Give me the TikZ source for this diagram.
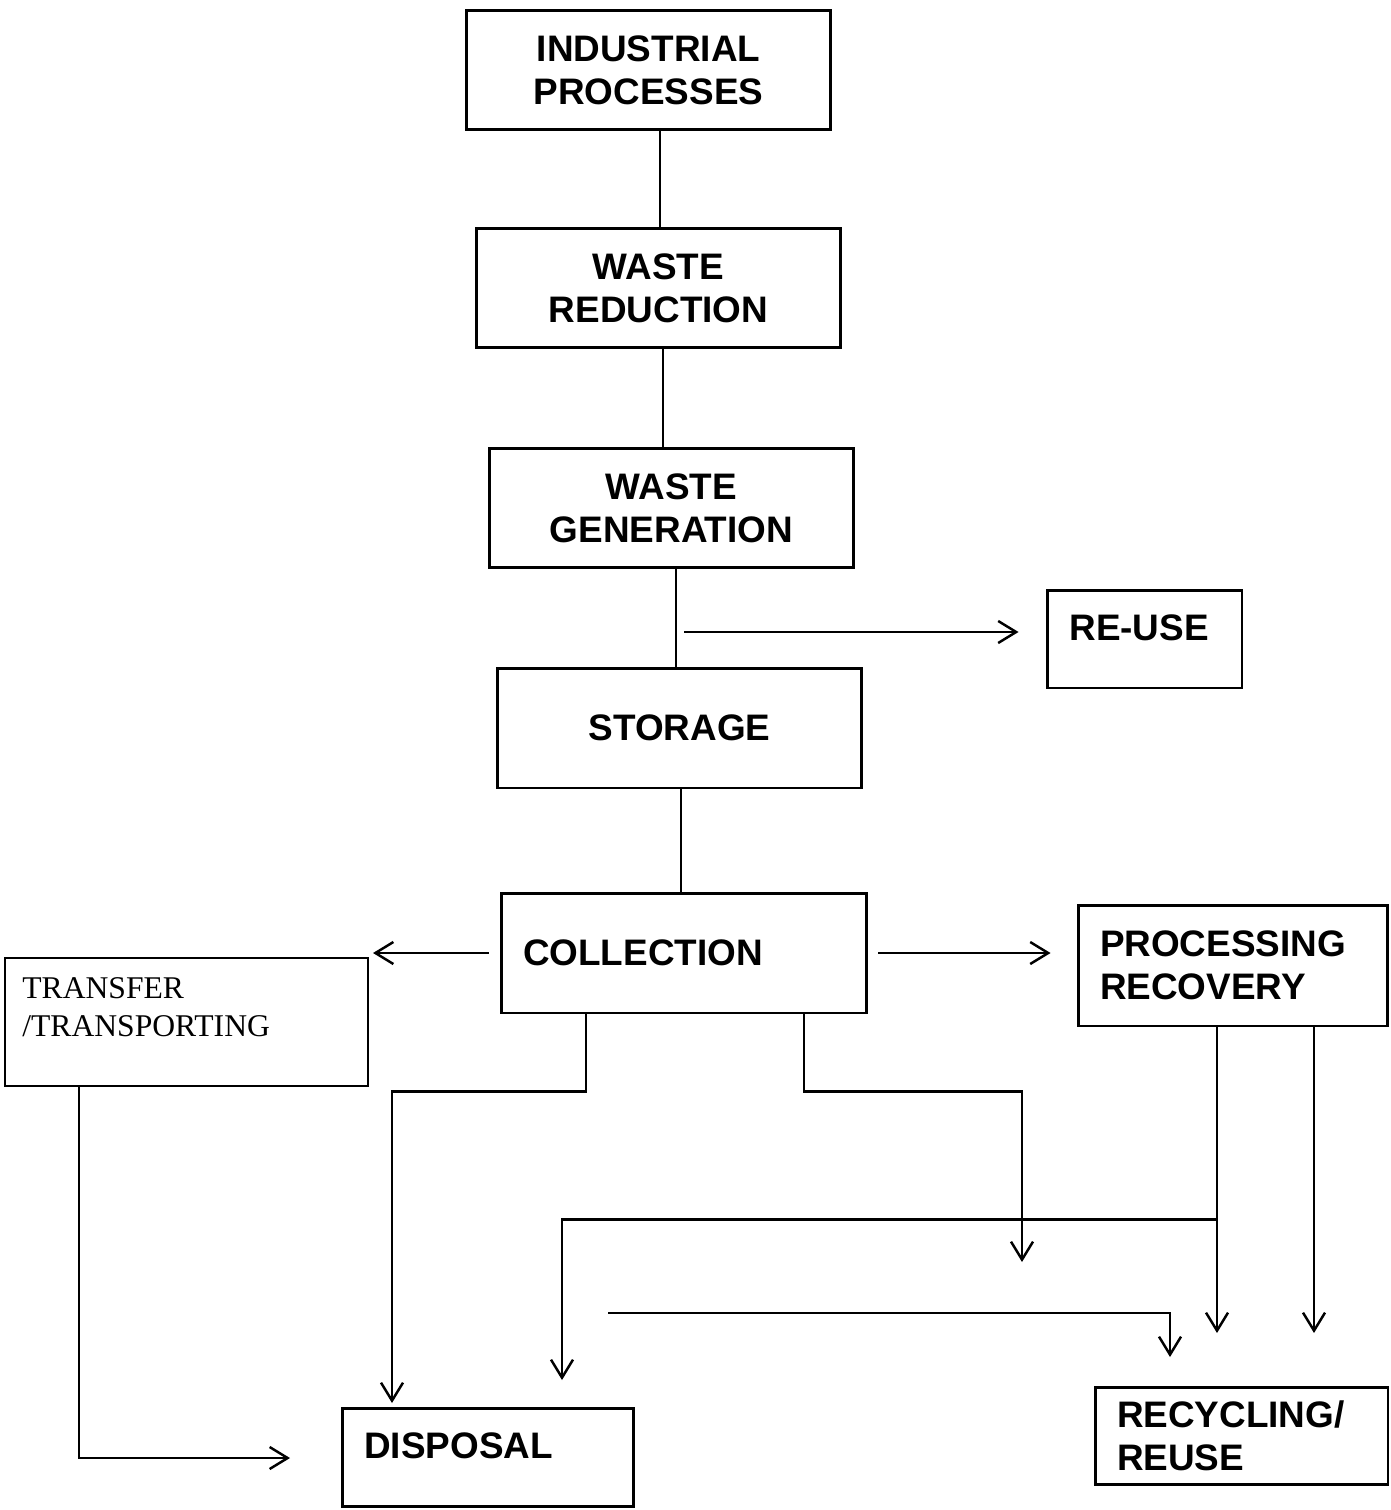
\documentclass[tikz,border=0pt]{standalone}
\usepackage{fontspec}
\setmainfont{Liberation Sans}
\newfontfamily\timesfont{Liberation Serif}
\usetikzlibrary{arrows.meta}

\begin{document}
\begin{tikzpicture}[x=0.02cm, y=-0.02cm,
        box/.style={draw, line width=1.7pt, inner ysep=0pt, inner xsep=0.44cm, font=\fontsize{21}{24.5}\selectfont\bfseries},
        lbl/.style={inner sep=0pt, font=\fontsize{21}{24.5}\selectfont\bfseries},
        link/.style={line width=1.4pt},
        arr/.style={link, -{Straight Barb[length=0.36cm, width=0.44cm]}}]
        \useasboundingbox (0,0) rectangle (1390,1510);

        % Cadeia principal
        \node[box, minimum width=7.3cm, minimum height=2.4cm, align=center] (ind) at (648.5,70) {INDUSTRIAL\\PROCESSES};
        \node[box, minimum width=7.3cm, minimum height=2.4cm, align=center] (red) at (658.5,288) {WASTE\\REDUCTION};
        \node[box, minimum width=7.3cm, minimum height=2.4cm, align=center] (gen) at (671.5,508) {WASTE\\GENERATION};
        \node[box, minimum width=7.3cm, minimum height=2.4cm] (sto) at (679.5,728) {STORAGE};
        \node[box, minimum width=7.32cm, minimum height=2.4cm, text width=6.44cm, align=left] (col) at (684,953) {COLLECTION};

        % Caixas laterais
        \node[box, minimum width=3.9cm, minimum height=1.96cm] (reuse) at (1144.5,639) {};
        \node[lbl, anchor=base west] (reuse-t) at (1069,640) {RE-USE};
        \node[box, minimum width=6.2cm, minimum height=2.42cm, text width=5.32cm, align=left] (proc) at (1233,965.5) {PROCESSING\\RECOVERY};
        \node[box, line width=1.2pt, minimum width=7.26cm, minimum height=2.56cm] (trans) at (186.5,1022) {};
        \node[inner sep=0pt, anchor=north west, align=left, font=\timesfont\fontsize{18}{21.5}\selectfont] (trans-t) at (22,977) {TRANSFER\\/TRANSPORTING};
        \node[box, minimum width=5.84cm, minimum height=1.96cm] (disp) at (488,1457) {};
        \node[lbl, anchor=base west] (disp-t) at (364,1458) {DISPOSAL};
        \node[box, minimum width=5.86cm, minimum height=1.94cm, text width=4.98cm, align=left] (rec) at (1241.5,1435.5) {RECYCLING/\\REUSE};

        % Ligacoes verticais
        \draw[link] (red.north -| 660,0) -- (ind.south -| 660,0);
        \draw[link] (gen.north -| 663,0) -- (red.south -| 663,0);
        \draw[link] (sto.north -| 676,0) -- (gen.south -| 676,0);
        \draw[link] (sto.south -| 681,0) -- (col.north -| 681,0);

        % Setas
        \coordinate (ru-start) at (684,632);
        \draw[arr, shorten >=0.54cm] (ru-start) -- (ru-start -| reuse.west);
        \draw[arr, shorten <=0.22cm, shorten >=0.08cm] (col.west) -- (col.west -| trans.east);
        \draw[arr, shorten <=0.2cm, shorten >=0.52cm] (col.east) -- (col.east -| proc.west);
        \draw[arr, shorten >=2pt] (col.south -| 586,0) -- ++(0,77) -| (disp.north -| 392,0);
        \coordinate (col-drop) at (1022,1262);
        \draw[arr] (col.south -| 804,0) -- ++(0,77) -| (col-drop);
        \coordinate (tr-end) at (290,1458);
        \draw[arr] (trans.south -| 79,0) |- (tr-end);

        % Saidas do processamento
        \coordinate (pr-a) at (1217,1333);
        \coordinate (pr-b) at (1314,1333);
        \coordinate (pr-c) at (562,1380);
        \draw[arr] (proc.south -| pr-a) -- (pr-a);
        \draw[arr] (proc.south -| pr-b) -- (pr-b);
        \draw[arr] (proc.south -| pr-a) ++(0,192) -| (pr-c);
        \coordinate (ln-a) at (608,1313);
        \coordinate (ln-b) at (1170,1357);
        \draw[arr] (ln-a) -| (ln-b);
    \end{tikzpicture}
\end{document}
